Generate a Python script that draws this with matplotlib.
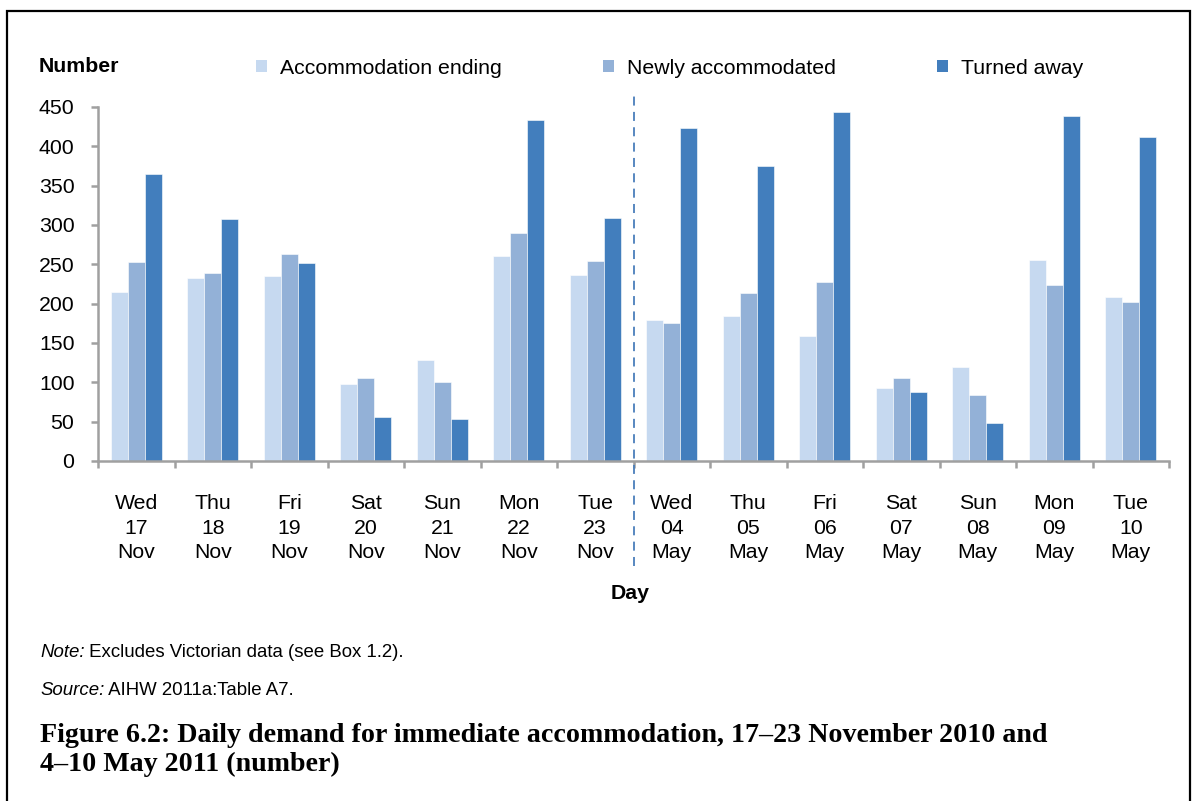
import matplotlib
matplotlib.use("Agg")
import matplotlib.pyplot as plt
from matplotlib.patches import Patch, Rectangle
import numpy as np

plt.rcParams['font.family'] = ['Liberation Sans', 'DejaVu Sans']

days = ["Wed", "Thu", "Fri", "Sat", "Sun", "Mon", "Tue",
        "Wed", "Thu", "Fri", "Sat", "Sun", "Mon", "Tue"]
dates = ["17", "18", "19", "20", "21", "22", "23",
         "04", "05", "06", "07", "08", "09", "10"]
months = ["Nov"] * 7 + ["May"] * 7
series_names = ["Accommodation ending", "Newly accommodated", "Turned away"]
accommodation_ending = [215, 232, 235, 98, 129, 260, 236,
                        179, 184, 159, 93, 120, 256, 209]
newly_accommodated = [253, 239, 263, 106, 101, 290, 254,
                      175, 213, 228, 106, 84, 224, 202]
turned_away = [365, 308, 252, 56, 53, 434, 309,
               423, 375, 444, 88, 48, 439, 412]
colors = ["#C6D9F0", "#93B1D7", "#427EBD"]
y_ticks = [0, 50, 100, 150, 200, 250, 300, 350, 400, 450]

W, H = 1198, 801
FS = 15.3
fig = plt.figure(figsize=(W / 100, H / 100), dpi=100)

def fy(py):
    return 1 - py / H

# figure frame
fig.patches.append(Rectangle((7 / W, -0.05), (1190 - 7) / W, 1.05 - 11 / H,
                             transform=fig.transFigure, fill=False,
                             edgecolor="black", linewidth=1.6))

ax_l, ax_r, ax_b, ax_t = 98, 1169, 461, 107
ax = fig.add_axes([ax_l / W, fy(ax_b), (ax_r - ax_l) / W, (ax_b - ax_t) / H])

n = len(days)
x = np.arange(n) + 0.5
bw = 0.222
for k, (vals, c) in enumerate(zip([accommodation_ending, newly_accommodated, turned_away], colors)):
    ax.bar(x + (k - 1) * bw, vals, width=bw, color=c, edgecolor="white",
           linewidth=0.4, label=series_names[k], zorder=2)

ax.set_xlim(0, n)
ax.set_ylim(0, 450)
ax.set_yticks(y_ticks)
ax.set_yticklabels([str(v) for v in y_ticks])
for s in ["top", "right"]:
    ax.spines[s].set_visible(False)
for s in ["left", "bottom"]:
    ax.spines[s].set_color("#A0A0A0")
    ax.spines[s].set_linewidth(1.8)
    ax.spines[s].set_zorder(3)

ax.set_xticks(np.arange(n + 1))
ax.set_xticklabels([])
ax.set_xticks(x, minor=True)
ax.set_xticklabels([f"{d}\n{dt}\n{m}" for d, dt, m in zip(days, dates, months)],
                   minor=True, linespacing=1.38)
ax.tick_params(axis="x", which="major", length=5, width=1.8, color="#A0A0A0", direction="out")
ax.tick_params(axis="x", which="minor", length=0, pad=23.8, labelsize=FS)
ax.tick_params(axis="y", length=5, width=1.8, color="#A0A0A0", pad=12, labelsize=FS)

# separator dashed line
ax.axvline(7, ymin=(ax_b - 566) / (ax_b - ax_t), ymax=(ax_b - 93) / (ax_b - ax_t),
           color="#4A7EBB", linestyle=(0, (5, 3.5)), linewidth=1.3, clip_on=False, zorder=4)

fig.text(39 / W, fy(67), "Number", fontsize=FS, fontweight="bold", va="center", ha="left")
fig.text(630 / W, fy(599), "Day", fontsize=FS, fontweight="bold", va="baseline", ha="center")

handles = [Patch(facecolor=c, edgecolor="none") for c in colors]
fig.legend(handles, series_names, loc="center left",
           bbox_to_anchor=(256 / W, fy(68)), ncol=3, frameon=False,
           fontsize=FS, handlelength=0.5, handleheight=0.55, handletextpad=0.64,
           columnspacing=4.75, borderpad=0, borderaxespad=0)

# notes: italic lead-in followed by regular text
renderer = fig.canvas.get_renderer()
NFS = 13.4
for lead, rest, base in [("Note:", " Excludes Victorian data (see Box 1.2).", 657),
                         ("Source:", " AIHW 2011a:Table A7.", 695)]:
    t1 = fig.text(40 / W, fy(base), lead, fontsize=NFS, style="italic",
                  va="baseline", ha="left")
    bb = t1.get_window_extent(renderer)
    fig.text(bb.x1 / W, fy(base), rest, fontsize=NFS, va="baseline", ha="left")

TFS = 20.2
fig.text(40 / W, fy(742), "Figure 6.2: Daily demand for immediate accommodation, 17–23 November 2010 and",
         fontsize=TFS, fontweight="bold", family=["Liberation Serif"], va="baseline", ha="left")
fig.text(40 / W, fy(771), "4–10 May 2011 (number)",
         fontsize=TFS, fontweight="bold", family=["Liberation Serif"], va="baseline", ha="left")

fig.savefig("out.png", dpi=100)
